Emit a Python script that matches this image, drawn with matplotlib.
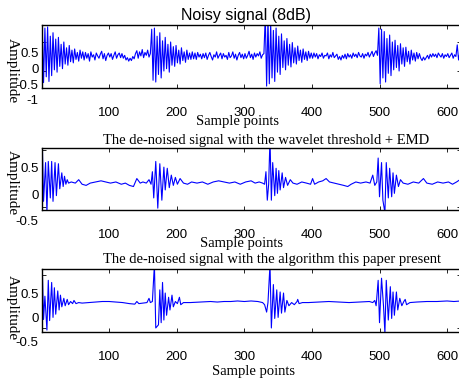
import numpy as np
import matplotlib
matplotlib.use("Agg")
import matplotlib.pyplot as plt

# ---------------- data ----------------
# Panel 1: noisy signal, one value every 2 sample points (1,3,5,...,619)
noisy_y = [
    0.78, -0.20, 0.74, -0.10, 0.76, -0.18, 0.60, -0.08, 0.66, 0.02,
    0.55, -0.02, 0.58, 0.08, 0.46, 0.04, 0.50, 0.12, 0.40, 0.10,
    0.44, 0.16, 0.36, 0.14, 0.38, 0.20, 0.32, 0.17, 0.36, 0.22,
    0.33, 0.19, 0.32, 0.22, 0.30, 0.17, 0.33, 0.24, 0.28, 0.19,
    0.31, 0.26, 0.22, 0.29, 0.34, 0.21, 0.30, 0.18, 0.27, 0.31,
    0.24, 0.30, 0.20, 0.27, 0.33, 0.22, 0.28, 0.31, 0.23, 0.30,
    0.22, 0.27, 0.19, 0.23, 0.17, 0.22, 0.18, 0.25, 0.21, 0.30,
    0.35, 0.22, 0.33, 0.26, 0.37, 0.23, 0.32, 0.27, 0.36, 0.24,
    0.30, 0.72, -0.16, 0.74, -0.19, 0.60, -0.06, 0.66, -0.12, 0.52,
    0.00, 0.58, 0.04, 0.46, -0.02, 0.50, 0.10, 0.42, 0.08, 0.44,
    0.14, 0.36, 0.12, 0.40, 0.18, 0.33, 0.15, 0.36, 0.20, 0.31,
    0.20, 0.33, 0.21, 0.31, 0.20, 0.32, 0.24, 0.29, 0.21, 0.30,
    0.23, 0.31, 0.20, 0.27, 0.32, 0.25, 0.19, 0.28, 0.24, 0.33,
    0.22, 0.27, 0.31, 0.21, 0.30, 0.24, 0.27, 0.20, 0.32, 0.23,
    0.26, 0.33, 0.22, 0.29, 0.19, 0.27, 0.32, 0.23, 0.29, 0.21,
    0.30, 0.22, 0.27, 0.34, 0.23, 0.29, 0.20, 0.31, 0.24, 0.30,
    0.26, 0.33, 0.22, 0.28, 0.30, 0.95, -0.26, 0.90, -0.22, 0.82,
    -0.12, 0.70, -0.18, 0.74, -0.02, 0.60, -0.06, 0.64, 0.06, 0.52,
    0.02, 0.56, 0.10, 0.46, 0.07, 0.49, 0.14, 0.40, 0.12, 0.43,
    0.18, 0.36, 0.15, 0.38, 0.20, 0.33, 0.18, 0.34, 0.22, 0.31,
    0.22, 0.31, 0.24, 0.30, 0.21, 0.28, 0.25, 0.31, 0.22, 0.27,
    0.26, 0.31, 0.21, 0.28, 0.24, 0.32, 0.23, 0.26, 0.29, 0.20,
    0.25, 0.19, 0.27, 0.22, 0.29, 0.21, 0.30, 0.24, 0.28, 0.22,
    0.31, 0.25, 0.29, 0.23, 0.32, 0.26, 0.24, 0.30, 0.22, 0.29,
    0.26, 0.32, 0.24, 0.29, 0.34, 0.25, 0.31, 0.35, 0.27, 0.74,
    -0.22, 0.72, -0.12, 0.68, -0.19, 0.56, -0.04, 0.62, -0.08, 0.50,
    0.02, 0.53, 0.06, 0.44, 0.00, 0.47, 0.12, 0.40, 0.08, 0.41,
    0.16, 0.34, 0.12, 0.36, 0.19, 0.31, 0.17, 0.32, 0.21, 0.30,
    0.22, 0.18, 0.24, 0.19, 0.23, 0.27, 0.21, 0.29, 0.24, 0.30,
    0.25, 0.29, 0.23, 0.31, 0.27, 0.24, 0.30, 0.22, 0.28, 0.25,
    0.30, 0.23, 0.27, 0.31, 0.22, 0.28, 0.25, 0.45, 0.19, 0.32,
]
noisy_x = list(range(1, 2 * len(noisy_y), 2))

# Panel 2: wavelet threshold + EMD
emd_x = [1, 3, 6, 8, 10, 13, 15, 17, 20, 22, 25, 27, 30, 32, 34, 36, 38, 40,
         44, 50, 55, 60, 66, 72, 80, 88, 95, 102, 110, 118, 124, 130, 136, 141,
         146, 150, 155, 159, 162,
         164, 166, 169, 172, 175, 178, 181, 183, 186, 189, 192, 195, 198, 201,
         205, 210, 216, 222, 230, 238, 246, 254, 262, 270, 278, 286, 294, 302,
         310, 316, 322, 327,
         330, 332, 334, 336, 338, 340, 342, 345, 347, 349, 351, 353, 356, 358,
         361, 364, 368, 372,
         378, 385, 392, 398, 401, 404, 410, 416, 421, 426, 433, 440, 447, 453,
         458, 465, 472, 480, 486,
         490, 493, 496, 498, 500, 503, 505, 508, 510, 513, 515, 518, 520, 522,
         525, 528, 531, 535,
         542, 550, 558, 565, 570, 578, 586, 594, 602, 608, 614, 619, 621]
emd_y = [0.60, 0.05, 0.39, -0.05, 0.40, 0.08, 0.40, 0.05, 0.39, 0.10, 0.38, 0.16,
         0.30, 0.18, 0.27, 0.20, 0.24, 0.21,
         0.22, 0.21, 0.24, 0.20, 0.19, 0.21, 0.22, 0.23, 0.22, 0.21, 0.22, 0.20,
         0.21, 0.19, 0.18, 0.25, 0.21, 0.22, 0.21, 0.24, 0.20,
         0.31, 0.08, 0.40, -0.01, 0.38, 0.06, 0.35, 0.15, 0.34, 0.17, 0.28, 0.19,
         0.26, 0.20, 0.25, 0.21, 0.20, 0.22, 0.21, 0.22, 0.20, 0.22, 0.23, 0.22,
         0.21, 0.22, 0.20, 0.22, 0.23, 0.21, 0.22, 0.21,
         0.20, 0.31, 0.06, 0.20, 0.60, 0.06, 0.39, 0.10, 0.34, 0.12, 0.32, 0.15,
         0.30, 0.17, 0.26, 0.19, 0.24, 0.21,
         0.20, 0.22, 0.21, 0.20, 0.25, 0.20, 0.22, 0.23, 0.25, 0.22, 0.21, 0.20,
         0.19, 0.18, 0.20, 0.22, 0.21, 0.22, 0.21,
         0.28, 0.19, 0.22, 0.43, 0.09, 0.39, 0.06, -0.05, 0.39, 0.08, 0.34, 0.09,
         0.30, 0.12, 0.28, 0.18, 0.24, 0.21,
         0.20, 0.22, 0.21, 0.25, 0.21, 0.20, 0.22, 0.21, 0.22, 0.20, 0.22, 0.24,
         0.22]

# Panel 3: the proposed algorithm
prop_x = [1, 3, 5, 8, 10, 12, 15, 17, 19, 21, 24, 26, 28, 30, 33, 35, 38, 40,
          43, 46, 48, 51, 55,
          60, 70, 80, 90, 100, 110, 120, 130, 138, 141, 144, 150, 156, 159, 161,
          164, 167, 169, 173, 175, 177, 179, 181, 183, 185, 188, 190, 193, 195,
          198, 201, 204, 206, 210,
          220, 235, 250, 260, 270, 280, 290, 300, 310, 320, 327,
          330, 333, 335, 338, 340, 343, 345, 348, 350, 353, 355, 358, 360, 363,
          366, 370, 374, 378, 379, 381, 386,
          395, 410, 425, 440, 455, 470, 485, 490,
          493, 495, 498, 500, 503, 506, 508, 510, 513, 516, 518, 520, 522, 525,
          527, 530, 533, 536, 538, 540, 545,
          555, 570, 585, 600, 610, 621]
prop_y = [0.60, 0.08, 0.30, -0.02, 0.45, 0.07, 0.43, 0.10, 0.38, 0.13, 0.35,
          0.17, 0.31, 0.20, 0.28, 0.21, 0.27, 0.22, 0.25, 0.23, 0.26, 0.23,
          0.24,
          0.235, 0.24, 0.245, 0.25, 0.25, 0.245, 0.24, 0.23, 0.225, 0.25, 0.23,
          0.235, 0.24, 0.28, 0.24,
          0.25, 0.60, 0.00, 0.03, 0.36, 0.05, 0.43, 0.075, 0.33, 0.12, 0.29,
          0.17, 0.31, 0.20, 0.25, 0.23, 0.29, 0.22, 0.24,
          0.24, 0.245, 0.25, 0.245, 0.25, 0.25, 0.255, 0.25, 0.255, 0.25, 0.24,
          0.22, 0.15, 0.24, 0.60, 0.00, 0.41, 0.09, 0.36, 0.10, 0.34, 0.14,
          0.33, 0.15, 0.26, 0.21, 0.24, 0.22, 0.25, 0.27, 0.23, 0.24,
          0.24, 0.245, 0.25, 0.245, 0.24, 0.245, 0.25, 0.24,
          0.26, 0.21, 0.45, 0.05, 0.47, 0.20, -0.05, 0.45, 0.075, 0.39, 0.09,
          0.34, 0.12, 0.34, 0.17, 0.28, 0.21, 0.25, 0.27, 0.22, 0.24,
          0.245, 0.25, 0.25, 0.255, 0.25, 0.255]

x_ticks = [100, 200, 300, 400, 500, 600]
titles = ["Noisy signal (8dB)",
          "The de-noised signal with the wavelet threshold + EMD",
          "The de-noised signal with the algorithm this paper present"]
ytick_labels = [["-1", "-0.5", "0", "0.5"], ["-0.5", "0", "0.5"], ["-0.5", "0", "0.5"]]
ytick_vals = [[-1, -0.5, 0, 0.5], [-0.5, 0, 0.5], [-0.5, 0, 0.5]]

# ---------------- layout (pixels, figure 460x380) ----------------
W, H = 460, 380
SANS = "Liberation Sans"
SERIF = "Liberation Serif"

fig = plt.figure(figsize=(W / 100, H / 100), dpi=100)

x_left_px, x_right_px = 42.2, 461.3
xlim = (1, 621)

panels = [
    dict(top=25, bot=88, ylim=(-0.293, 0.793), lab=(45, 108, (-1.274, 0.758)),
         ylab_y=71, xlab=(237.5, 122), ttl=(246, 15), title_font=SANS, title_size=11.5),
    dict(top=148, bot=210, ylim=(-0.026, 0.518), lab=(160, 225, (-0.585, 0.642)),
         ylab_y=183, xlab=(241.5, 243), ttl=(266, 140), title_font=SERIF, title_size=10.5),
    dict(top=269, bot=332, ylim=(-0.038, 0.557), lab=(285, 345, (-0.583, 0.667)),
         ylab_y=308, xlab=(253, 372), ttl=(272, 260), title_font=SERIF, title_size=10.5),
]
series = [(noisy_x, noisy_y), (emd_x, emd_y), (prop_x, prop_y)]

for k, (p, (sx, sy)) in enumerate(zip(panels, series)):
    l = x_left_px / W
    w = (x_right_px - x_left_px) / W
    b = 1 - p["bot"] / H
    h = (p["bot"] - p["top"]) / H
    ax = fig.add_axes([l, b, w, h])
    ax.plot(sx, sy, color="#0000ff", lw=0.8)
    ax.set_xlim(*xlim)
    ax.set_ylim(*p["ylim"])
    ax.set_xticks(x_ticks)
    ax.set_xticklabels([str(t) for t in x_ticks], fontfamily=SANS, fontsize=9.5)
    ax.set_yticks([0, 0.5])
    ax.set_yticklabels([])
    ax.tick_params(direction="in", length=3, width=0.6, top=True, right=True,
                   pad=13.5)
    for s in ax.spines.values():
        s.set_linewidth(1.0)
    ax.set_xlabel("Sample points", fontfamily=SERIF, fontsize=10.5, va="center")
    ax.xaxis.set_label_coords((p["xlab"][0] - x_left_px) / (x_right_px - x_left_px),
                              -(p["xlab"][1] - p["bot"]) / (p["bot"] - p["top"]))
    ax.set_ylabel("Amplitude", fontfamily=SERIF, fontsize=11, rotation=-90,
                  va="center", ha="center")
    ax.yaxis.set_label_coords((12 - x_left_px) / (x_right_px - x_left_px),
                              (p["bot"] - p["ylab_y"]) / (p["bot"] - p["top"]))
    ax.text((p["ttl"][0] - x_left_px) / (x_right_px - x_left_px),
            1 + (p["top"] - p["ttl"][1]) / (p["bot"] - p["top"]),
            titles[k], transform=ax.transAxes, ha="center", va="center",
            fontfamily=p["title_font"], fontsize=p["title_size"])

    # y tick label axis
    lt, lb, lylim = p["lab"]
    lax = fig.add_axes([l, 1 - lb / H, w, (lb - lt) / H])
    lax.patch.set_visible(False)
    for s in lax.spines.values():
        s.set_visible(False)
    lax.set_xticks([])
    lax.set_ylim(*lylim)
    lax.set_yticks(ytick_vals[k])
    lax.set_yticklabels(ytick_labels[k], fontfamily=SANS, fontsize=9.5)
    lax.tick_params(axis="y", length=0, pad=2.5)

fig.savefig("out.png", dpi=100)
